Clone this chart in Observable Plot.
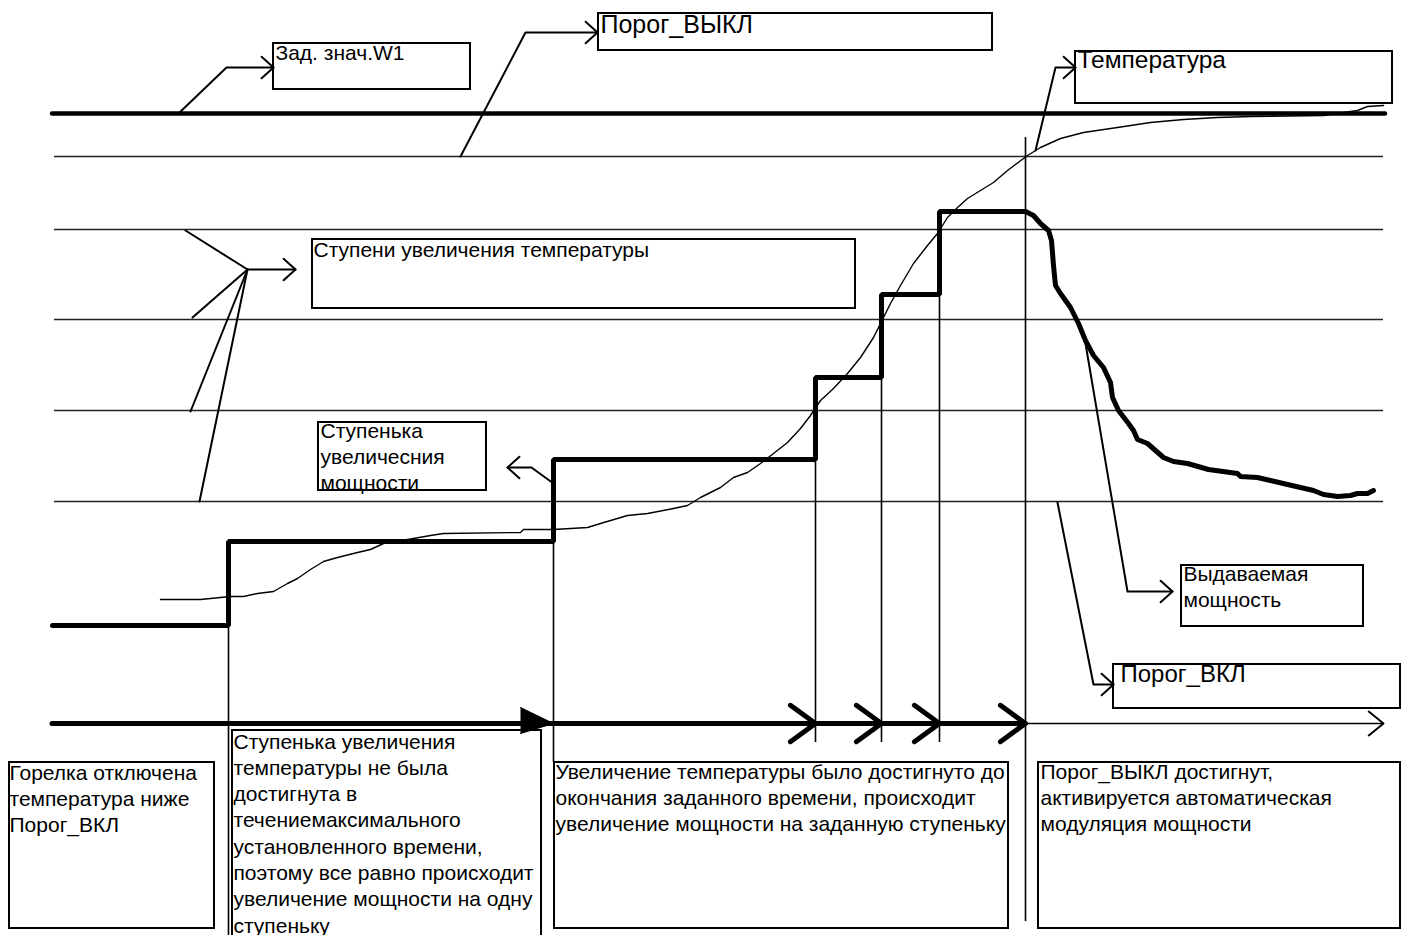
<!DOCTYPE html>
<html><head><meta charset="utf-8">
<script src="https://cdn.jsdelivr.net/npm/d3@7"></script>
<script src="https://cdn.jsdelivr.net/npm/@observablehq/plot@0.6"></script>
<style>html,body{margin:0;padding:0;background:#fff;overflow:hidden}</style>
</head><body><div id="chart"></div>
<script>
// ---- diagram units (time on x, level on y, y grows downward) ----
const W = 1407, H = 935;
const setpointLevel = 113;                       // Зад. знач.W1
const thresholdLevels = [156, 229, 319, 410, 501]; // Порог_ВЫКЛ, steps, Порог_ВКЛ
const levelStart = 54, levelEnd = 1383, setpointStart = 52, setpointEnd = 1385;

// burner power: stepped increase
const stepTimes  = [52, 228, 553, 815, 881, 939, 1025];
const stepPowers = [625, 541, 459, 377, 294, 211, 211];
// burner power: automatic modulation after Порог_ВЫКЛ
const modTimes  = [1025, 1033, 1040, 1048, 1051, 1053, 1055, 1060, 1070, 1078, 1085, 1093, 1103, 1110, 1112, 1118, 1128, 1133, 1137, 1147, 1163, 1173, 1187, 1208, 1237, 1240, 1257, 1287, 1313, 1323, 1337, 1350, 1357, 1367, 1373];
const modPowers = [211, 215, 223, 230, 240, 265, 285, 293, 307, 323, 340, 355, 367, 382, 397, 410, 423, 430, 439, 443, 457, 461, 463, 469, 473, 476, 477, 484, 490, 494, 496, 495, 493, 493, 490];

// temperature
const tempTimes  = [160, 200, 220, 230, 243, 257, 273, 287, 297, 310, 323, 337, 357, 370, 383, 413, 430, 443, 520, 523, 553, 587, 600, 627, 647, 673, 687, 700, 720, 733, 747, 760, 773, 787, 800, 810, 820, 833, 847, 860, 873, 880, 890, 900, 913, 927, 937, 947, 957, 967, 980, 993, 1007, 1027, 1040, 1060, 1083, 1117, 1150, 1183, 1217, 1250, 1323, 1357, 1367, 1383];
const tempValues = [599, 599, 597, 596, 596, 593, 591, 583, 578, 569, 561, 557, 552, 549, 543, 538, 535, 533, 532, 529, 529, 527, 523, 515, 513, 508, 505, 497, 487, 477, 472, 463, 453, 442, 428, 415, 400, 388, 373, 357, 337, 323, 303, 285, 263, 245, 233, 217, 207, 198, 190, 182, 170, 155, 147, 138, 132, 127, 122, 119, 117, 116, 115, 110, 106, 105];

// time axis
const axisLevel = 723, axisStart = 52, axisThickEnd = 1025, axisEnd = 1383;
const axisMarkTimes = [815, 881, 939, 1025];
const markerTimes  = [228, 553, 815, 881, 939, 1025];
const markerStarts = [625, 541, 459, 377, 294, 137];
const markerEnds   = [935, 762, 742, 742, 742, 921];

// callout leaders (polylines, last point = arrow tip)
const leaderW1    = [[178,113],[226,67],[273,67]];
const leaderOff   = [[460,156],[525,32],[597,32]];
const leaderTemp  = [[1035,150],[1055,67],[1075,67]];
const leaderSteps = [[185,230],[247,269],[295,269]];
const leaderStepsExtra = [[[192,317],[247,269]], [[190,411],[247,269]], [[199,501],[247,269]]];
const leaderPStep = [[553,483],[531,467],[507,467]];
const leaderPower = [[1085,343],[1127,591],[1172,591]];
const leaderOn    = [[1057,502],[1093,684],[1113,684]];

// label boxes [x1, y1, x2, y2] and their texts
const boxNames = ["w1","off","temp","steps","pstep","power","on","b1","b2","b3","b4"];
const boxX1 = [273, 598, 1075, 312, 318, 1181, 1113, 9, 232, 554, 1038];
const boxY1 = [43, 13, 51, 239, 422, 565, 664, 762, 730, 762, 762];
const boxX2 = [470, 992, 1392, 855, 486, 1363, 1400, 214, 541, 1008, 1400];
const boxY2 = [89, 50, 103, 308, 490, 626, 708, 928, 940, 928, 928];
const boxTexts = [
  "Зад. знач.W1",
  "Порог_ВЫКЛ",
  "Температура",
  "Ступени увеличения температуры",
  "Ступенька\nувеличесния\nмощности",
  "Выдаваемая\nмощность",
  "Порог_ВКЛ",
  "Горелка отключена\nтемпература ниже\nПорог_ВКЛ",
  "Ступенька увеличения\nтемпературы не была\nдостигнута в\nтечениемаксимального\nустановленного времени,\nпоэтому все равно происходит\nувеличение мощности на одну\nступеньку",
  "Увеличение температуры было достигнуто до\nокончания заданного времени, происходит\nувеличение мощности на заданную ступеньку",
  "Порог_ВЫКЛ достигнут,\nактивируется автоматическая\nмодуляция мощности"
];
const boxFontSizes = [21, 25, 24.5, 21, 21, 21, 24, 21, 21, 21, 21];
const firstBaselines = [59, 32, 67, 256, 437, 580, 681, 779, 748, 778, 778];
const textLeft = [2, 2, 2, 1, 2, 2, 7, 0, 1, 1, 2];
const bodyLineGap = 26.3; // px between text lines

// ---- build tables ----
const boxes = boxNames.map((n, i) => ({
  n, x1: boxX1[i], y1: boxY1[i], x2: boxX2[i], y2: boxY2[i], text: boxTexts[i], fs: boxFontSizes[i],
  tx: boxX1[i] + textLeft[i], base: firstBaselines[i], multi: boxTexts[i].includes("\n") || boxFontSizes[i] === 21
}));
const bodyLH = bodyLineGap / 21;
const bodyTexts = boxes.filter(d => d.fs === 21).map(d => ({...d, ty: d.base - 0.71 * bodyLH * d.fs}));
const bigTexts = boxes.filter(d => d.fs !== 21).map(d => ({...d, ty: d.base - 0.71 * d.fs}));

const stepPts = [];
stepTimes.forEach((t, i) => {
  if (i > 0) stepPts.push({t, v: stepPowers[i - 1]});
  stepPts.push({t, v: stepPowers[i]});
});
const modPts = modTimes.map((t, i) => ({t, v: modPowers[i]}));
const tempPts = tempTimes.map((t, i) => ({t, v: tempValues[i]}));

function chevron(tip, from, len, half) {
  const a = Math.atan2(tip[1] - from[1], tip[0] - from[0]);
  const r = half * Math.PI / 180;
  return [
    [tip[0] - len * Math.cos(a - r), tip[1] - len * Math.sin(a - r)],
    tip,
    [tip[0] - len * Math.cos(a + r), tip[1] - len * Math.sin(a + r)]
  ];
}
const leaders = [leaderW1, leaderOff, leaderTemp, leaderSteps, ...leaderStepsExtra, leaderPStep, leaderPower, leaderOn];
const leaderRows = leaders.flatMap((p, k) => p.map(([t, v]) => ({k, t, v})));
const tipLeaders = [leaderW1, leaderOff, leaderTemp, leaderSteps, leaderPStep, leaderPower, leaderOn];
const thinHeads = tipLeaders.flatMap((p, k) => chevron(p[p.length - 1], p[p.length - 2], 16, 42).map(([t, v]) => ({k, t, v})));
const axisEndHead = chevron([axisEnd, axisLevel], [axisThickEnd, axisLevel], 19, 39).map(([t, v]) => ({t, v}));
const thickHeads = axisMarkTimes.flatMap((x, k) => chevron([x, axisLevel], [0, axisLevel], 31, 36).map(([t, v]) => ({k, t, v})));
const triangle = [[520, axisLevel - 16], [553, axisLevel], [520, axisLevel + 10]].map(([t, v]) => ({t, v}));
const markers = markerTimes.map((t, i) => ({t, y1: markerStarts[i], y2: markerEnds[i]}));

const font = "'Liberation Sans', Arial, sans-serif";
const chart = Plot.plot({
  width: W, height: H,
  marginTop: 0, marginRight: 0, marginBottom: 0, marginLeft: 0,
  x: {domain: [0, W], range: [0, W], axis: null},
  y: {domain: [0, H], range: [0, H], axis: null},
  style: {background: "#fff", fontFamily: font},
  marks: [
    Plot.ruleY(thresholdLevels, {x1: levelStart, x2: levelEnd, stroke: "#222", strokeWidth: 1.6}),
    Plot.ruleY([setpointLevel], {x1: setpointStart, x2: setpointEnd, stroke: "#000", strokeWidth: 4.5, strokeLinecap: "round"}),
    Plot.ruleX(markers, {x: "t", y1: "y1", y2: "y2", stroke: "#000", strokeWidth: 1.6}),
    Plot.line(tempPts, {x: "t", y: "v", stroke: "#000", strokeWidth: 1.4}),
    Plot.line(stepPts, {x: "t", y: "v", stroke: "#000", strokeWidth: 5, strokeLinejoin: "miter"}),
    Plot.line(modPts, {x: "t", y: "v", stroke: "#000", strokeWidth: 5, strokeLinejoin: "round", strokeLinecap: "round"}),
    Plot.ruleY([axisLevel], {x1: axisStart, x2: axisThickEnd, stroke: "#000", strokeWidth: 5, strokeLinecap: "round"}),
    Plot.ruleY([axisLevel], {x1: axisThickEnd, x2: axisEnd, stroke: "#000", strokeWidth: 1.6}),
    Plot.line(axisEndHead, {x: "t", y: "v", stroke: "#000", strokeWidth: 2}),
    Plot.line(thickHeads, {x: "t", y: "v", z: "k", stroke: "#000", strokeWidth: 5, strokeLinecap: "round"}),
    Plot.line(triangle, {x: "t", y: "v", fill: "#000", stroke: "#000", strokeWidth: 1}),
    Plot.line(leaderRows, {x: "t", y: "v", z: "k", stroke: "#000", strokeWidth: 2}),
    Plot.line(thinHeads, {x: "t", y: "v", z: "k", stroke: "#000", strokeWidth: 2}),
    Plot.rect(boxes, {x1: "x1", x2: "x2", y1: "y1", y2: "y2", fill: "none", stroke: "#000", strokeWidth: 2}),
    Plot.text(bodyTexts, {x: "tx", y: "ty", text: "text", fontSize: 21, textAnchor: "start", lineAnchor: "top", lineHeight: bodyLH, fill: "#000", fontFamily: font}),
    Plot.text(bigTexts, {x: "tx", y: "ty", text: "text", fontSize: "fs", textAnchor: "start", lineAnchor: "top", lineHeight: 1, fill: "#000", fontFamily: font})
  ]
});
document.getElementById("chart").appendChild(chart);
</script>
</body></html>
